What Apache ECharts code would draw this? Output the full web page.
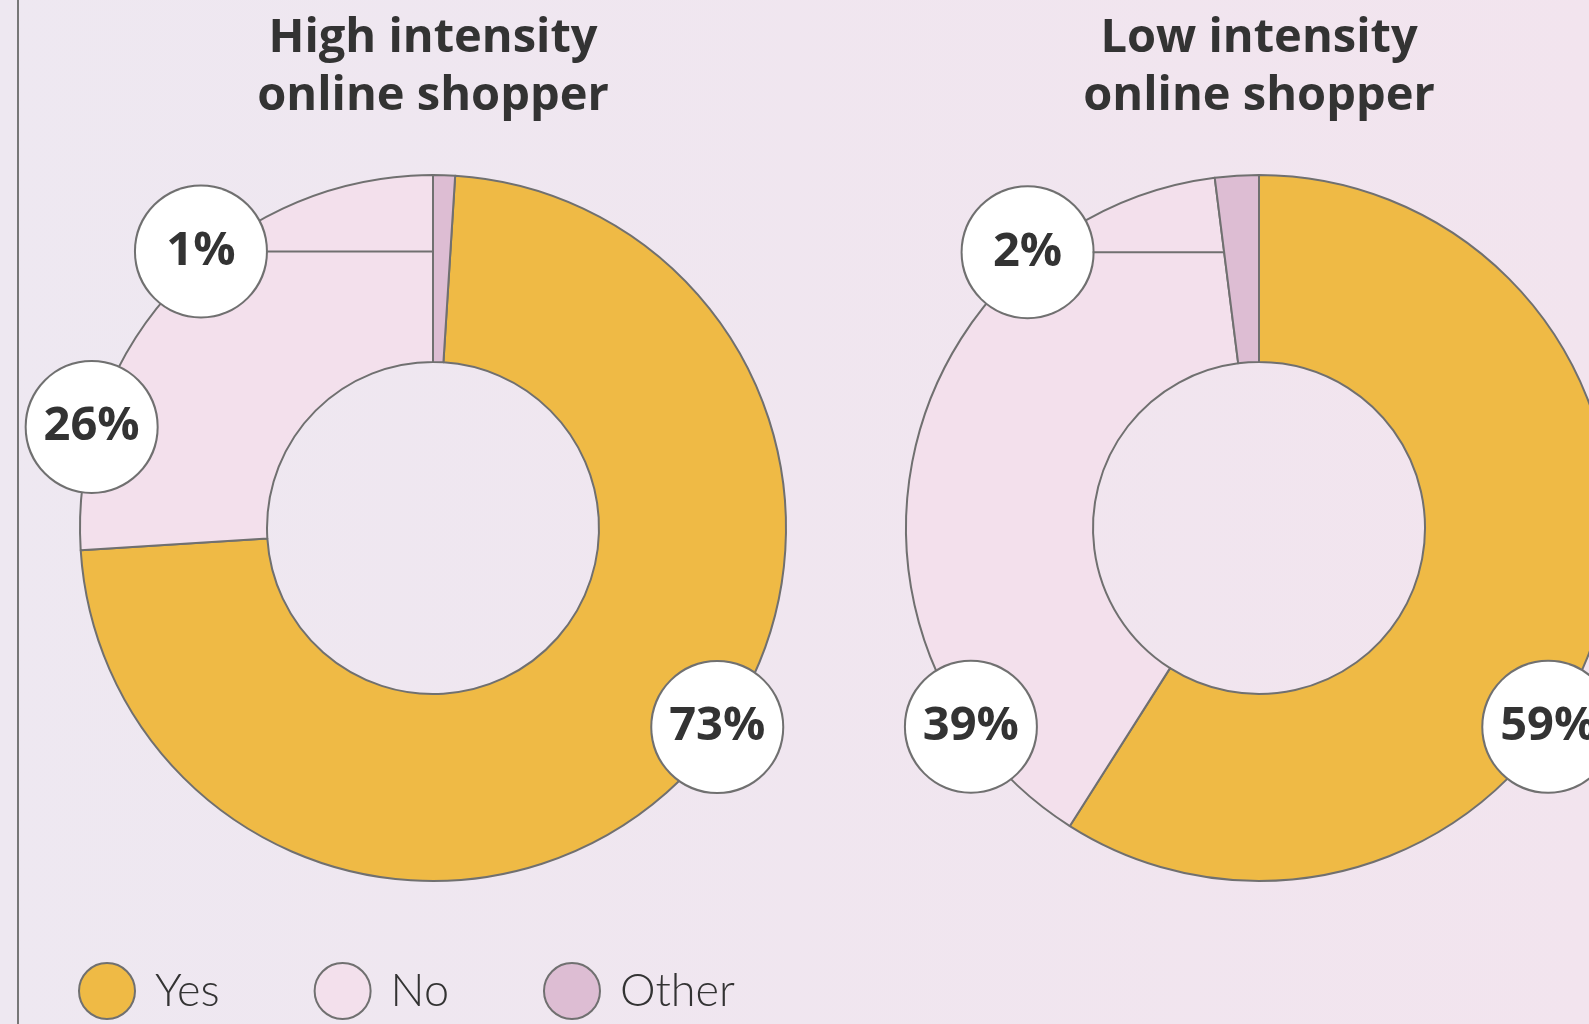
<!DOCTYPE html>
<html>
<head>
<meta charset="utf-8">
<script src="https://cdn.jsdelivr.net/npm/echarts@6/dist/echarts.min.js"></script>
<style>
  html, body { margin: 0; padding: 0; width: 1589px; height: 1024px; overflow: hidden; }
  #chart { width: 1589px; height: 1024px; }
</style>
</head>
<body>
<div id="chart"></div>
<script>
// ---------- data ----------
const categories = ['Yes', 'No', 'Other'];
const highValues = [73, 26, 1];
const lowValues = [59, 39, 2];
const seriesTitles = ['High intensity\nonline shopper', 'Low intensity\nonline shopper'];

// ---------- styles / layout ----------
const colors = { Yes: '#EFBA45', No: '#F3E0EC', Other: '#DDBDD3' };
const edge = '#707070';
const centers = [[433, 528], [1259, 528]];
const rIn = 166, rOut = 353;
// label bubble placement: [degrees clockwise from 12 o'clock, distance from centre]
const labelPlacement = [
  { Yes: [125, 347], No: [286.5, 356], Other: [320, 361] },
  { Yes: [124.5, 351], No: [235.4, 350], Other: [320, 360] }
];
// whether the "Other" slice is rotated to sit clockwise of 12 o'clock
const otherFirst = [true, false];
const bubbleR = 66;

const allValues = [highValues, lowValues];

function startOffsetDeg(s) {
  const vals = allValues[s];
  const total = vals.reduce((a, b) => a + b, 0);
  return otherFirst[s] ? 360 * vals[2] / total : 0;
}

function bubblePos(s, name) {
  const [deg, dist] = labelPlacement[s][name];
  const [cx, cy] = centers[s];
  const rad = deg * Math.PI / 180;
  return [cx + dist * Math.sin(rad), cy - dist * Math.cos(rad)];
}

function labelLayout(params) {
  const s = params.seriesIndex;
  const name = categories[params.dataIndex];
  const [x, y] = bubblePos(s, name);
  return { x: x, y: y, align: 'center', verticalAlign: 'middle' };
}

// horizontal leader line from the "Other" bubble to the start edge of the "Other" slice
function leader(s) {
  const vals = allValues[s];
  const total = vals.reduce((a, b) => a + b, 0);
  const [cx, cy] = centers[s];
  const [x, y] = bubblePos(s, 'Other');
  const theta = (startOffsetDeg(s) + 360 * (vals[0] + vals[1]) / total) * Math.PI / 180;
  const bx = cx + (cy - y) * Math.tan(theta);
  return {
    type: 'line',
    z: 10,
    silent: true,
    shape: { x1: x + bubbleR - 1, y1: y, x2: bx, y2: y },
    style: { stroke: edge, lineWidth: 2 }
  };
}

function makeSeries(s) {
  const vals = allValues[s];
  return {
    type: 'pie',
    name: seriesTitles[s],
    center: centers[s],
    radius: [rIn, rOut],
    startAngle: 90 - startOffsetDeg(s),
    clockwise: true,
    avoidLabelOverlap: false,
    silent: true,
    emphasis: { disabled: true, scale: false },
    itemStyle: { borderColor: edge, borderWidth: 2 },
    label: {
      show: true,
      position: 'outside',
      formatter: p => p.value + '%',
      fontFamily: 'Open Sans',
      fontWeight: 'bold',
      fontSize: 47,
      color: '#333333',
      backgroundColor: '#ffffff',
      borderColor: edge,
      borderWidth: 2,
      borderRadius: 65,
      width: 130,
      height: 130,
      lineHeight: 130,
      align: 'center'
    },
    labelLine: { show: false },
    labelLayout: labelLayout,
    data: categories.map((c, i) => ({
      name: c,
      value: vals[i],
      itemStyle: { color: colors[c] }
    }))
  };
}

const chart = echarts.init(document.getElementById('chart'), null, { renderer: 'canvas' });
chart.setOption({
  animation: false,
  backgroundColor: {
    type: 'linear', x: 0, y: 0, x2: 1, y2: 0,
    colorStops: [{ offset: 0, color: '#EEE8F1' }, { offset: 1, color: '#F2E4EE' }]
  },
  title: seriesTitles.map((t, s) => ({
    text: t,
    left: centers[s][0],
    top: 10,
    textAlign: 'center',
    padding: 0,
    textStyle: { fontFamily: 'Open Sans', fontWeight: 'bold', fontSize: 47, lineHeight: 58, color: '#333333' }
  })),
  legend: {
    data: categories,
    left: 78,
    top: 962,
    padding: 0,
    icon: 'circle',
    itemWidth: 56,
    itemHeight: 56,
    itemGap: 94,
    selectedMode: false,
    itemStyle: { borderColor: edge, borderWidth: 2 },
    textStyle: { fontFamily: 'Lato', fontWeight: 300, fontSize: 45, color: '#333333', padding: [0, 0, 0, 15] }
  },
  graphic: [
    {
      type: 'line',
      shape: { x1: 18, y1: 0, x2: 18, y2: 1024 },
      style: { stroke: '#777777', lineWidth: 2 },
      silent: true
    },
    leader(0),
    leader(1)
  ],
  series: [makeSeries(0), makeSeries(1)]
});
</script>
</body>
</html>
